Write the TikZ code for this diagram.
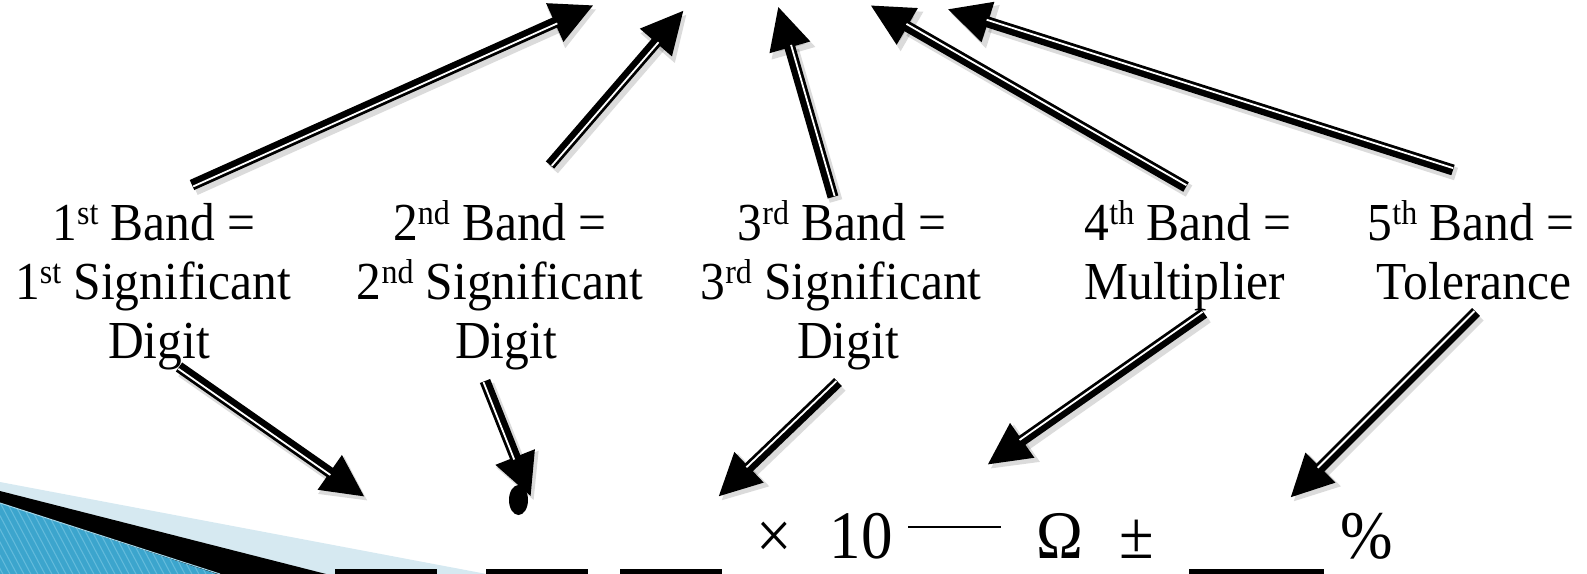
\documentclass[tikz,border=0pt]{standalone}
\usepackage{fontspec}
\setmainfont{Liberation Serif}
\usetikzlibrary{arrows.meta,calc}
\definecolor{lightband}{RGB}{214,233,241}
\definecolor{blueband}{RGB}{60,165,205}
\definecolor{bluestripe}{RGB}{98,186,219}
\tikzset{
  lbl/.style={anchor=base, inner sep=0pt, font=\fontsize{49.5}{59}\selectfont},
  frm/.style={anchor=base, inner sep=0pt, font=\fontsize{63}{70}\selectfont},
  arrbody/.style={line width=11pt, -{Triangle[length=43pt,width=39pt]}},
  shadowarr/.style={line width=13pt, black, opacity=0.14, -{Triangle[length=45pt,width=42pt]}, transform canvas={shift={(3pt,-4pt)}}},
  inner line/.style={white, line width=1.8pt, shorten >=41pt, shorten <=0.5pt}
}
\newcommand\tall[1]{\scalebox{1}[1.08]{#1}}
\newcommand\sups[1]{\raisebox{14pt}{\fontsize{32}{32}\selectfont #1}}
\newcommand\carrow[2]{%
  \draw[arrbody] (#1) -- (#2);
  \path let \p1=($(#2)-(#1)$), \n1={atan2(\y1,\x1)} in
    ($(#1)+(\n1-90:1.8pt)$) coordinate (#1w) ($(#2)+(\n1-90:1.8pt)$) coordinate (#2w);
  \draw[inner line] (#1w) -- (#2w);
}
\begin{document}
\begin{tikzpicture}[x=1pt,y=-1pt]
\path[use as bounding box] (0,0) rectangle (1587,573);

% swoosh bottom-left
\fill[lightband] (0,482) -- (492,575) -- (0,575) -- cycle;
\fill[black] (0,491) -- (330,575) -- (0,575) -- cycle;
\begin{scope}
  \clip (0,503) -- (220,575) -- (0,575) -- cycle;
  \fill[blueband] (0,495) rectangle (230,576);
  \foreach \i in {-60,-53,...,240} {\draw[bluestripe, line width=1.1pt] (\i,495) -- (\i+45,580);}
\end{scope}
\draw[bluestripe!60!white, line width=1pt] (0,503) -- (220,574);

% labels
\node[lbl] (l1a) at (154,240) {\tall{1\sups{st} Band =}};
\node[lbl] (l1b) at (153,299) {\tall{1\sups{st} Significant}};
\node[lbl] (l1c) at (159,358) {\tall{Digit}};
\node[lbl] (l2a) at (500,240) {\tall{2\sups{nd} Band =}};
\node[lbl] (l2b) at (500,299) {\tall{2\sups{nd} Significant}};
\node[lbl] (l2c) at (506,358) {\tall{Digit}};
\node[lbl] (l3a) at (842,240) {\tall{3\sups{rd} Band =}};
\node[lbl] (l3b) at (841,299) {\tall{3\sups{rd} Significant}};
\node[lbl] (l3c) at (848,358) {\tall{Digit}};
\node[lbl] (l4a) at (1188,240) {\tall{4\sups{th} Band =}};
\node[lbl] (l4b) at (1185,299) {\tall{Multiplier}};
\node[lbl] (l5a) at (1471,240) {\tall{5\sups{th} Band =}};
\node[lbl] (l5b) at (1474,299) {\tall{Tolerance}};

% formula
\node[frm] (times) at (774,558) {\tall{×}};
\node[frm] (ten) at (861,558) {\tall{10}};
\node[frm] (omega) at (1060,558) {\tall{Ω}};
\node[frm] (pm) at (1137,558) {\tall{±}};
\node[frm] (pct) at (1367,558) {\tall{\%}};
\fill (335,568.5) rectangle (437,575);
\fill (486,568.5) rectangle (588,575);
\fill (620,568.5) rectangle (722,575);
\fill (1189,568.5) rectangle (1324,575);
\fill (908,525.5) rectangle (1001,528);
\fill (518.5,500) ellipse [x radius=9.5pt, y radius=15pt];

% arrow end points
\coordinate (s1) at (192,185);  \coordinate (t1) at (594,5);
\coordinate (s2) at (550,165);  \coordinate (t2) at (684,10);
\coordinate (s3) at (833,197);  \coordinate (t3) at (778,6);
\coordinate (s4) at (1186,187); \coordinate (t4) at (870,5);
\coordinate (s5) at (1453,170); \coordinate (t5) at (947,9);
\coordinate (s6) at (179,367);  \coordinate (t6) at (365,497);
\coordinate (s7) at (485,381);  \coordinate (t7) at (531,497);
\coordinate (s8) at (838,382);  \coordinate (t8) at (718,497);
\coordinate (s9) at (1204,313); \coordinate (t9) at (987,465);
\coordinate (s10) at (1476,312); \coordinate (t10) at (1290,498);

\foreach \a/\b in {s1/t1,s2/t2,s3/t3,s4/t4,s5/t5,s6/t6,s7/t7,s8/t8,s9/t9,s10/t10}
  {\draw[shadowarr] (\a) -- (\b);}
\foreach \a/\b in {s1/t1,s2/t2,s3/t3,s4/t4,s5/t5,s6/t6,s7/t7,s8/t8,s9/t9,s10/t10}
  {\carrow{\a}{\b}}
\end{tikzpicture}
\end{document}
